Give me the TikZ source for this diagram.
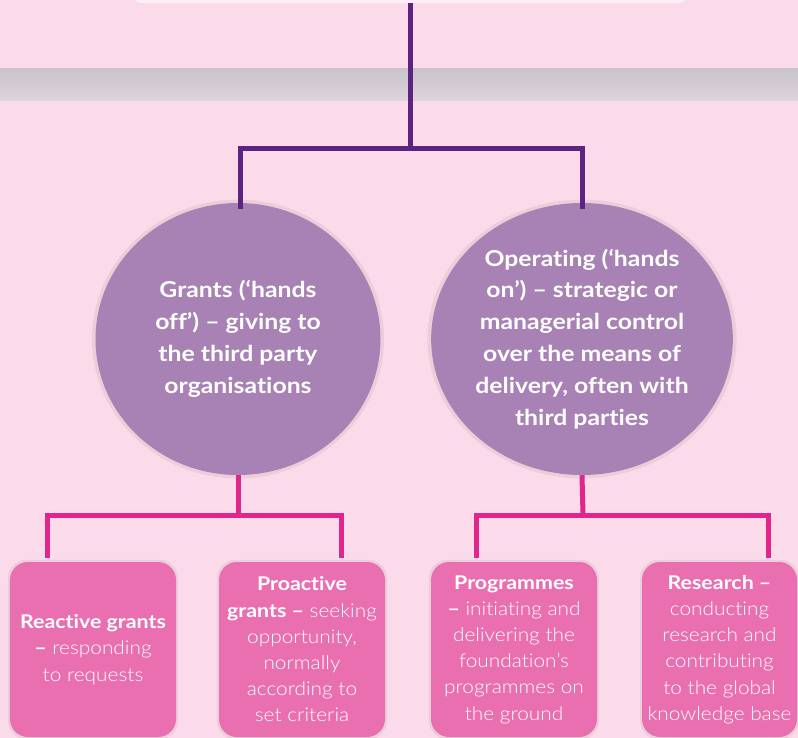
\documentclass[tikz,border=0pt]{standalone}
\usepackage{fontspec}
\setmainfont{Lato}[Ligatures=NoCommon, BoldFeatures={FakeStretch=1.13}]
\newfontfamily\lightfont{Lato Light}[Ligatures=NoCommon, FakeStretch=1.1]
\usetikzlibrary{shapes.geometric,shadows}
\definecolor{bg}{HTML}{FBDBE9}
\definecolor{bandtop}{HTML}{C9C3CB}
\definecolor{bandmid}{HTML}{EEE7EF}
\definecolor{bandbot}{HTML}{DDD3DD}
\definecolor{topfill}{HTML}{FEF0F6}
\definecolor{purp}{HTML}{5C2383}
\definecolor{circfill}{HTML}{A882B5}
\definecolor{pinkl}{HTML}{E0258C}
\definecolor{boxfill}{HTML}{E96FB1}
\newcommand\bld[1]{{\normalfont\bfseries #1}}
\begin{document}
\begin{tikzpicture}[x=1bp,y=-1bp,
  halo/.style={general shadow={fill=black, opacity=0.06, shadow scale=1.025}},
  circ/.style={ellipse, fill=circfill, minimum width=285bp, minimum height=272bp,
    inner sep=0pt, text=white, align=center, halo,
    font=\fontsize{22}{32}\selectfont\bfseries},
  boxnode/.style={rectangle, rounded corners=18bp, fill=boxfill, minimum width=166bp,
    minimum height=175bp, inner sep=0pt, text=white, align=center, halo,
    font=\fontsize{19}{26.3}\selectfont\lightfont},
  purpleline/.style={draw=purp, line width=5bp, line join=miter},
  pinkline/.style={draw=pinkl, line width=5bp, line join=miter}]
\useasboundingbox (0,0) rectangle (798,738);
\fill[bg] (0,0) rectangle (798,738);
\shade[top color=bandtop, middle color=bandmid, bottom color=bandbot] (0,69) rectangle (798,100);
\node[fill=topfill, rounded corners=14bp, minimum width=562bp, minimum height=60bp, inner sep=0pt] (top) at (410,-27) {};

\node[circ] (grants) at (238,339) {Grants (‘hands\\off’) – giving to\\the third party\\organisations};
\node[circ] (operating) at (582,339) {Operating (‘hands\\on’) – strategic or\\managerial control\\over the means of\\delivery, often with\\third parties};

\node[boxnode] (reactive) at (93,649.5) {\bld{Reactive grants}\\\bld{–} responding\\to requests};
\node[boxnode] (proactive) at (302,649.5) {\bld{Proactive}\\\bld{grants –} seeking\\opportunity,\\normally\\according to\\set criteria};
\node[boxnode] (programmes) at (514,649.5) {\bld{Programmes}\\\bld{–} initiating and\\delivering the\\foundation’s\\programmes on\\the ground};
\node[boxnode, minimum width=155bp] (research) at (719.5,649.5) {\bld{Research –}\\conducting\\research and\\contributing\\to the global\\knowledge base};

\coordinate (pj) at (410,148);
\coordinate (gj) at (238,515);
\coordinate (oj) at (583,515);
\draw[purpleline] (top.south) -- (pj);
\draw[purpleline] ([xshift=2bp,yshift=-6bp]grants.north) |- (pj) -| ([yshift=-6bp]operating.north);
\draw[pinkline] (grants.south) -- (gj);
\draw[pinkline] (operating.south) -- (oj);
\draw[pinkline] ([xshift=-46bp,yshift=4bp]reactive.north) |- (gj) -| ([xshift=39bp,yshift=4bp]proactive.north);
\draw[pinkline] ([xshift=-38bp,yshift=4bp]programmes.north) |- (oj) -| ([xshift=48.5bp,yshift=4bp]research.north);
\end{tikzpicture}
\end{document}
